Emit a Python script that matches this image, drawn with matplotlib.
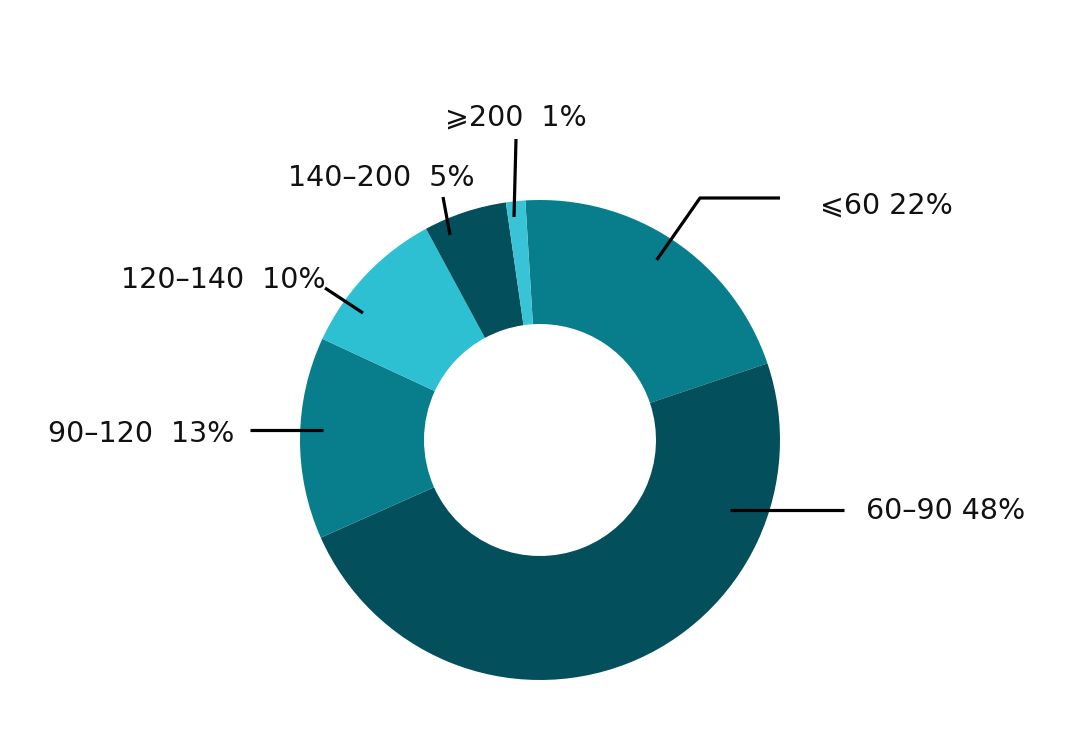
import matplotlib
matplotlib.use("Agg")
import matplotlib.pyplot as plt

# ---- data ----
categories = ["⩽60", "60–90", "90–120", "120–140", "140–200", "⩾200"]
shown_pct = ["22%", "48%", "13%", "10%", "5%", "1%"]
# wedge sizes as drawn in the picture (percent of the ring)
shares = [20.8, 48.5, 13.6, 10.2, 5.6, 1.3]
colors = ["#087D8B", "#044F5C", "#087D8B", "#2DBFD2", "#044F5C", "#38C3D6"]
separators = [" ", " ", "  ", "  ", "  ", "  "]

W, H = 1080, 746
fig = plt.figure(figsize=(W / 100, H / 100), dpi=100)
ax = fig.add_axes([0, 0, 1, 1])

def Y(y):
    return H - y

cx, cy, R, ring = 540, 440, 240, 124
ax.pie(shares, colors=colors, startangle=93.5, counterclock=False,
       radius=R, center=(cx, Y(cy)),
       wedgeprops=dict(width=ring, linewidth=0))
ax.set_xlim(0, W)
ax.set_ylim(0, H)
ax.set_aspect("equal")
ax.axis("off")

# leader lines (pixel positions) and label anchor (left x, text centre y)
leaders = [
    [(656.7, 260), (700, 198), (780, 198)],
    [(730, 510), (844, 510)],
    [(250, 430), (323, 430)],
    [(325, 288), (363, 313)],
    [(443, 197), (450, 235)],
    [(516, 139), (514, 217)],
]
label_pos = [(820, 203), (866, 509), (48, 432), (121, 278), (288, 176), (445, 115)]

for pts, (lx, ly), cat, sep, pct in zip(leaders, label_pos, categories, separators, shown_pct):
    xs = [p[0] for p in pts]
    ys = [Y(p[1]) for p in pts]
    ax.plot(xs, ys, color="black", lw=2.3, solid_capstyle="butt")
    ax.text(lx, Y(ly + 10.4), f"{cat}{sep}{pct}", ha="left", va="baseline",
            fontsize=20.5, color="#111111", family=["DejaVu Sans"])

fig.savefig("out.png", dpi=100, facecolor="white")
